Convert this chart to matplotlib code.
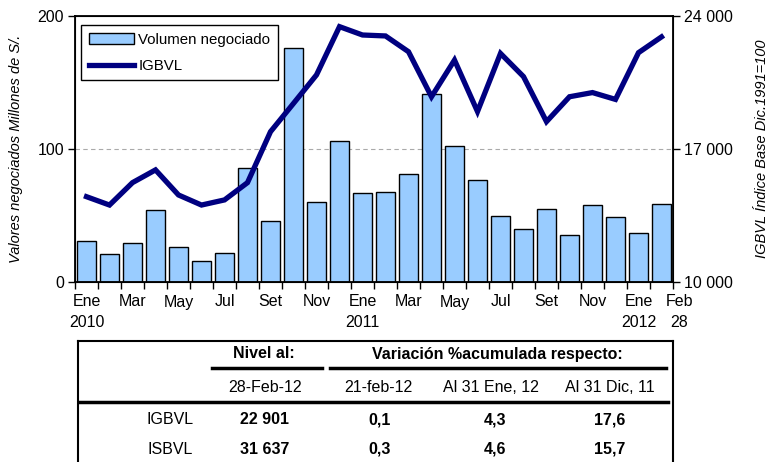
import matplotlib
matplotlib.use("Agg")
import matplotlib.pyplot as plt
import matplotlib.transforms as mtransforms
import numpy as np
from matplotlib.lines import Line2D
from matplotlib.patches import Patch

plt.rcParams['font.family'] = ['Liberation Sans', 'DejaVu Sans']

months = ["Ene", "Feb", "Mar", "Abr", "May", "Jun", "Jul", "Ago", "Set", "Oct", "Nov", "Dic",
          "Ene", "Feb", "Mar", "Abr", "May", "Jun", "Jul", "Ago", "Set", "Oct", "Nov", "Dic",
          "Ene", "Feb"]
volumen = [31, 21, 29, 54, 26, 16, 22, 86, 46, 176, 60, 106,
           67, 68, 81, 141, 102, 77, 50, 40, 55, 35, 58, 49, 37, 59]
igbvl = [14490, 14050, 15230, 15900, 14580, 14050, 14320, 15230, 17910, 19400, 20900, 23440,
         23000, 22950, 22120, 19750, 21680, 18970, 22030, 20810, 18440, 19750, 19970, 19610,
         22070, 22901]
tick_labels = ["Ene\n2010", "Mar", "May", "Jul", "Set", "Nov", "Ene\n2011", "Mar", "May", "Jul",
               "Set", "Nov", "Ene\n2012", "Feb\n28"]

table_header1 = ["Nivel al:", "Variación %acumulada respecto:"]
table_header2 = ["28-Feb-12", "21-feb-12", "Al 31 Ene, 12", "Al 31 Dic, 11"]
table_rows = [["IGBVL", "22 901", "0,1", "4,3", "17,6"],
              ["ISBVL", "31 637", "0,3", "4,6", "15,7"]]

W, H = 778, 462
fig = plt.figure(figsize=(W / 100, H / 100), dpi=100)

def fx(px):
    return px / W

def fy(py):
    return 1 - py / H

ax = fig.add_axes([fx(75), fy(282), fx(673) - fx(75), fy(16) - fy(282)])
x = np.arange(len(volumen))
ax.bar(x, volumen, width=0.85, color="#99CCFF", edgecolor="black", linewidth=1.0, zorder=2)
ax.set_xlim(-0.5, len(volumen) - 0.5)
ax.set_ylim(0, 200)
ax.set_yticks([0, 100, 200])
ax.axhline(100, color="#aaaaaa", linestyle=(0, (4, 3)), linewidth=0.8, zorder=1)
ax.tick_params(axis='y', labelsize=11.5, length=5, width=1, direction='out', pad=3)
ax.set_ylabel("Valores negociados Millones de S/.", fontsize=10.5, style='italic', labelpad=10)

# x ticks: minor at month boundaries, labels every two months
ax.set_xticks(np.arange(-0.5, len(volumen) + 0.5, 1), minor=True)
label_pos = list(range(0, 26, 2)) + [25]
ax.set_xticks(label_pos)
ax.set_xticklabels(tick_labels, fontsize=11.5, linespacing=1.45)
ax.tick_params(axis='x', which='major', length=0, pad=9)
ax.tick_params(axis='x', which='minor', length=5, width=1, direction='out')
# shift "Feb 28" label right so it sits beside "Ene 2012"
last = ax.get_xticklabels()[-1]
last.set_transform(last.get_transform() + mtransforms.ScaledTranslation(0.18, 0, fig.dpi_scale_trans))
for s in ax.spines.values():
    s.set_linewidth(1.3)

ax2 = ax.twinx()
ax2.plot(x, igbvl, color="#000080", linewidth=3.8, solid_joinstyle='miter', zorder=3)
ax2.set_ylim(10000, 24000)
ax2.set_yticks([10000, 17000, 24000])
ax2.set_yticklabels(["10 000", "17 000", "24 000"])
ax2.tick_params(axis='y', labelsize=11.5, length=5, width=1, direction='out', pad=3)
ax2.set_ylabel("IGBVL Índice Base Dic.1991=100", fontsize=10.5, style='italic', rotation=90, labelpad=16)
ax2.set_xlim(-0.5, len(volumen) - 0.5)

handles = [Patch(facecolor="#99CCFF", edgecolor="black", linewidth=1.0),
           Line2D([0], [0], color="#000080", linewidth=3.8)]
leg = ax2.legend(handles, ["Volumen negociado", "IGBVL"], loc='upper left',
                 bbox_to_anchor=(0.003, 0.982), fontsize=10.8, fancybox=False, framealpha=1,
                 edgecolor="black", handlelength=3.0, borderpad=0.5, labelspacing=0.8,
                 handletextpad=0.3, borderaxespad=0.3)
leg.get_frame().set_linewidth(1.0)

# Table
lw_box = 1.5
fig.add_artist(Line2D([fx(78), fx(673)], [fy(341), fy(341)], color='black', linewidth=lw_box))
fig.add_artist(Line2D([fx(78), fx(78)], [fy(341), fy(462)], color='black', linewidth=lw_box))
fig.add_artist(Line2D([fx(673), fx(673)], [fy(341), fy(462)], color='black', linewidth=lw_box))
fig.add_artist(Line2D([fx(212), fx(322)], [fy(368), fy(368)], color='black', linewidth=2.5))
fig.add_artist(Line2D([fx(330), fx(666)], [fy(368), fy(368)], color='black', linewidth=2.5))
fig.add_artist(Line2D([fx(80), fx(668)], [fy(402), fy(402)], color='black', linewidth=2.5))

h1_x = [264, 497]
for t, px in zip(table_header1, h1_x):
    fig.text(fx(px), fy(354), t, ha='center', va='center', fontsize=11.5, fontweight='bold')
h2_x = [265, 378, 491, 610]
for t, px in zip(table_header2, h2_x):
    fig.text(fx(px), fy(387), t, ha='center', va='center', fontsize=11.5)
col_x = [170, 265, 380, 495, 610]
row_y = [420, 449]
for row, py in zip(table_rows, row_y):
    for j, (t, px) in enumerate(zip(row, col_x)):
        fig.text(fx(px), fy(py), t, ha='center', va='center', fontsize=11.5,
                 fontweight='normal' if j == 0 else 'bold')

fig.savefig("out.png", dpi=100)
